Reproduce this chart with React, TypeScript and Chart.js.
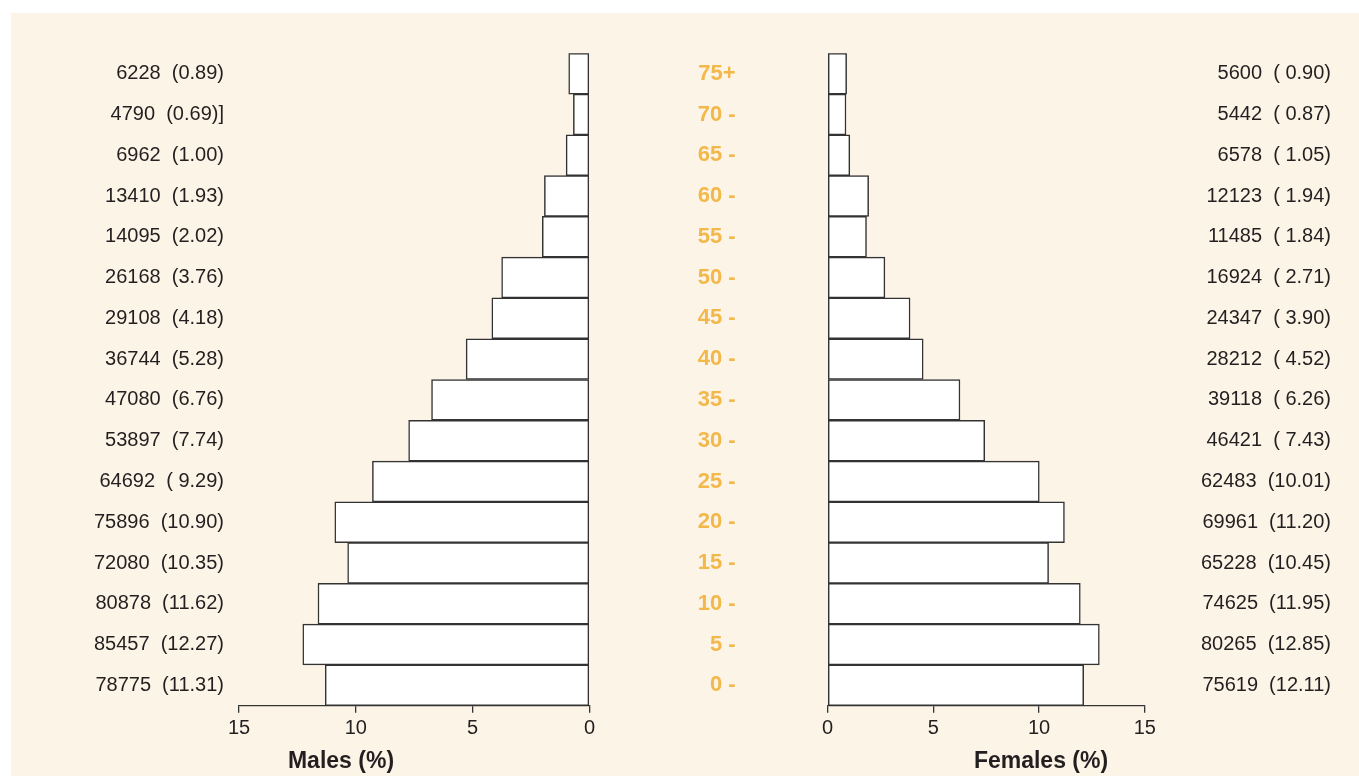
import React, { useEffect, useRef } from "react";
import { Chart, registerables } from "chart.js";

Chart.register(...registerables);

// Age groups, bottom (0) to top (75+)
const ageGroups = ["0 -", "5 -", "10 -", "15 -", "20 -", "25 -", "30 -", "35 -", "40 -", "45 -", "50 -", "55 -", "60 -", "65 -", "70 -", "75+"];

const malePct = [11.31, 12.27, 11.62, 10.35, 10.90, 9.29, 7.74, 6.76, 5.28, 4.18, 3.76, 2.02, 1.93, 1.00, 0.69, 0.89];
const femalePct = [12.11, 12.85, 11.95, 10.45, 11.20, 10.01, 7.43, 6.26, 4.52, 3.90, 2.71, 1.84, 1.94, 1.05, 0.87, 0.90];

const maleLabels = [
  "78775  (11.31)", "85457  (12.27)", "80878  (11.62)", "72080  (10.35)", "75896  (10.90)",
  "64692  ( 9.29)", "53897  (7.74)", "47080  (6.76)", "36744  (5.28)", "29108  (4.18)",
  "26168  (3.76)", "14095  (2.02)", "13410  (1.93)", "6962  (1.00)", "4790  (0.69)]", "6228  (0.89)",
];
const femaleLabels = [
  "75619  (12.11)", "80265  (12.85)", "74625  (11.95)", "65228  (10.45)", "69961  (11.20)",
  "62483  (10.01)", "46421  ( 7.43)", "39118  ( 6.26)", "28212  ( 4.52)", "24347  ( 3.90)",
  "16924  ( 2.71)", "11485  ( 1.84)", "12123  ( 1.94)", "6578  ( 1.05)", "5442  ( 0.87)", "5600  ( 0.90)",
];

const axisMin = 0;
const axisMax = 15;
const axisStep = 5;

const FONT = "'Liberation Sans', Arial, Helvetica, sans-serif";
const BG = "#fdf4e8";
const ORANGE = "#f2b84a";
const TEXT = "#231f20";
const LINE = "#333333";

const CH = 763; // canvas height
const PAD_TOP = 40.3;
const XAXIS_H = 41.7;

function fixWidth(w: number) {
  return (s: any) => {
    s.width = w;
    s.paddingTop = 0;
    s.paddingBottom = 0;
  };
}

function xScale(reverse: boolean) {
  return {
    type: "linear" as const,
    reverse,
    min: axisMin,
    max: axisMax,
    ticks: {
      stepSize: axisStep,
      color: TEXT,
      font: { family: FONT, size: 20 },
      padding: 4,
      maxRotation: 0,
    },
    grid: { display: true, drawOnChartArea: false, drawTicks: true, tickLength: 7, color: LINE, lineWidth: 1.3 },
    border: { display: true, color: LINE, width: 1.3 },
    afterFit: (s: any) => { s.height = XAXIS_H; },
  };
}

function titleOpts(text: string) {
  return {
    display: true,
    position: "bottom" as const,
    text,
    color: TEXT,
    font: { family: FONT, size: 23, weight: "bold" as const },
    padding: { top: 0, bottom: 1 },
  };
}

function dataset(values: number[]) {
  return {
    data: values,
    backgroundColor: "#ffffff",
    borderColor: LINE,
    borderWidth: 1.5,
    borderSkipped: false,
    categoryPercentage: 1,
    barPercentage: 1,
  };
}

function MaleChart() {
  const ref = useRef<HTMLCanvasElement>(null);
  useEffect(() => {
    const chart = new Chart(ref.current!, {
      type: "bar",
      data: { labels: maleLabels, datasets: [dataset(malePct)] },
      options: {
        indexAxis: "y",
        animation: false,
        responsive: false,
        maintainAspectRatio: false,
        layout: { padding: { top: PAD_TOP, bottom: 0, left: 0, right: 0 } },
        plugins: { legend: { display: false }, tooltip: { enabled: false }, title: titleOpts("Males (%)") },
        scales: {
          x: xScale(true),
          y: {
            type: "category",
            position: "left",
            reverse: true,
            grid: { display: false, drawTicks: false },
            border: { display: false },
            ticks: { color: TEXT, font: { family: FONT, size: 20 }, padding: 15, autoSkip: false },
            afterFit: fixWidth(228),
          },
          yr: {
            type: "category",
            position: "right",
            reverse: true,
            labels: ageGroups,
            grid: { display: false, drawTicks: false },
            border: { display: false },
            ticks: { display: false },
            afterFit: fixWidth(81.5),
          },
        },
      },
    });
    return () => chart.destroy();
  }, []);
  return <canvas ref={ref} width={660} height={CH} style={{ position: "absolute", left: 0, top: 0, width: 660, height: CH }} />;
}

function FemaleChart() {
  const ref = useRef<HTMLCanvasElement>(null);
  useEffect(() => {
    const chart = new Chart(ref.current!, {
      type: "bar",
      data: { labels: ageGroups, datasets: [dataset(femalePct)] },
      options: {
        indexAxis: "y",
        animation: false,
        responsive: false,
        maintainAspectRatio: false,
        layout: { padding: { top: PAD_TOP, bottom: 0, left: 0, right: 0 } },
        plugins: { legend: { display: false }, tooltip: { enabled: false }, title: titleOpts("Females (%)") },
        scales: {
          x: xScale(false),
          y: {
            type: "category",
            position: "left",
            reverse: true,
            grid: { display: false, drawTicks: false },
            border: { display: false },
            ticks: { color: ORANGE, font: { family: FONT, size: 22, weight: "bold" }, padding: 92, autoSkip: false },
            afterFit: fixWidth(137.6),
          },
          yr: {
            type: "category",
            position: "right",
            reverse: true,
            labels: femaleLabels,
            grid: { display: false, drawTicks: false },
            border: { display: false },
            ticks: { color: TEXT, font: { family: FONT, size: 20 }, mirror: true, crossAlign: "near", padding: 186.2, autoSkip: false },
            afterFit: fixWidth(247.2),
          },
        },
      },
    });
    return () => chart.destroy();
  }, []);
  return <canvas ref={ref} width={702} height={CH} style={{ position: "absolute", left: 679, top: 0, width: 702, height: CH }} />;
}

export default function App() {
  return (
    <div style={{ position: "absolute", left: 11, top: 13, width: 1348, height: CH, background: BG, overflow: "hidden" }}>
      <MaleChart />
      <FemaleChart />
    </div>
  );
}
